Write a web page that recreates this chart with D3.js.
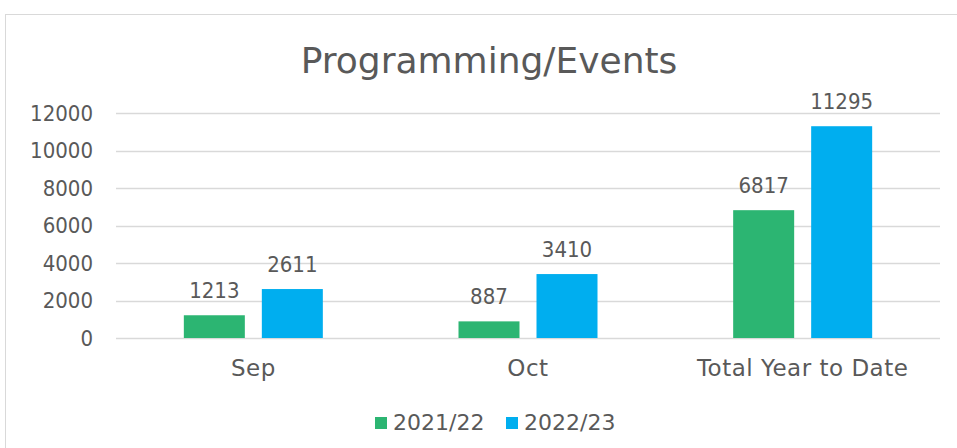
<!DOCTYPE html>
<html>
<head>
<meta charset="utf-8">
<script src="https://d3js.org/d3.v7.min.js"></script>
<style>
  body { margin: 0; background: #fff; font-family: 'DejaVu Sans', sans-serif; }
  svg text { fill: #595959; }
  .num { font-family: 'DejaVu Sans Condensed', 'DejaVu Sans', sans-serif; font-size: 22px; }
</style>
</head>
<body>
<svg width="957" height="448"></svg>
<script>
// chart data
const categories = ["Sep", "Oct", "Total Year to Date"];
const seriesNames = ["2021/22", "2022/23"];
const values2021 = [1213, 887, 6817];
const values2022 = [2611, 3410, 11295];
const yTicks = [0, 2000, 4000, 6000, 8000, 10000, 12000];
const colors = ["#2cb572", "#00aeef"];

const svg = d3.select("svg");

// outer chart border (runs off the right and bottom edge)
svg.append("rect")
  .attr("x", 5.5).attr("y", 14.5)
  .attr("width", 1000).attr("height", 500)
  .attr("fill", "none")
  .attr("stroke", "#d9d9d9");

const plotLeft = 116, plotRight = 940, plotTop = 113, plotBottom = 338;

const x = d3.scaleBand().domain(categories).range([plotLeft, plotRight]).paddingInner(0).paddingOuter(0);
const y = d3.scaleLinear().domain([0, 12000]).range([plotBottom, plotTop]);

// gridlines
svg.append("g").selectAll("line")
  .data(yTicks)
  .join("line")
  .attr("x1", plotLeft).attr("x2", plotRight)
  .attr("y1", d => Math.round(y(d)) + 0.5)
  .attr("y2", d => Math.round(y(d)) + 0.5)
  .attr("stroke", "#d9d9d9")
  .attr("stroke-width", 1.5);

// y axis labels
svg.append("g").selectAll("text")
  .data(yTicks)
  .join("text")
  .attr("class", "num")
  .attr("x", 93)
  .attr("y", d => y(d))
  .attr("dy", "0.36em")
  .attr("text-anchor", "end")
  .text(d => d);

// bars inside each category
const barW = 61, barGap = 17;
const sub = i => -(barW + barGap / 2) + i * (barW + barGap);

const data = categories.map((c, i) => ({ cat: c, vals: [values2021[i], values2022[i]] }));

const groups = svg.append("g").selectAll("g")
  .data(data)
  .join("g")
  .attr("transform", d => "translate(" + (x(d.cat) + x.bandwidth() / 2) + ",0)");

groups.selectAll("rect")
  .data(d => d.vals)
  .join("rect")
  .attr("x", (d, i) => sub(i))
  .attr("y", d => y(d))
  .attr("width", barW)
  .attr("height", d => y(0) - y(d))
  .attr("fill", (d, i) => colors[i]);

groups.selectAll("text.num")
  .data(d => d.vals)
  .join("text")
  .attr("class", "num")
  .attr("x", (d, i) => sub(i) + barW / 2)
  .attr("y", d => y(d) - 17)
  .attr("text-anchor", "middle")
  .text(d => d);

// category labels
svg.append("g").selectAll("text")
  .data(categories)
  .join("text")
  .attr("x", d => x(d) + x.bandwidth() / 2)
  .attr("y", 376)
  .attr("text-anchor", "middle")
  .style("font-size", "23px")
  .style("letter-spacing", "0.5px")
  .text(d => d);

// title
svg.append("text")
  .attr("x", 489)
  .attr("y", 73)
  .attr("text-anchor", "middle")
  .style("font-size", "36px")
  .text("Programming/Events");

// legend
const legendX = [375, 506];
const legend = svg.append("g").selectAll("g")
  .data(seriesNames)
  .join("g")
  .attr("transform", (d, i) => "translate(" + legendX[i] + ",417)");
legend.append("rect")
  .attr("width", 12).attr("height", 12)
  .attr("fill", (d, i) => colors[i]);
legend.append("text")
  .attr("x", 18).attr("y", 13)
  .style("font-size", "22px")
  .text(d => d);
</script>
</body>
</html>
